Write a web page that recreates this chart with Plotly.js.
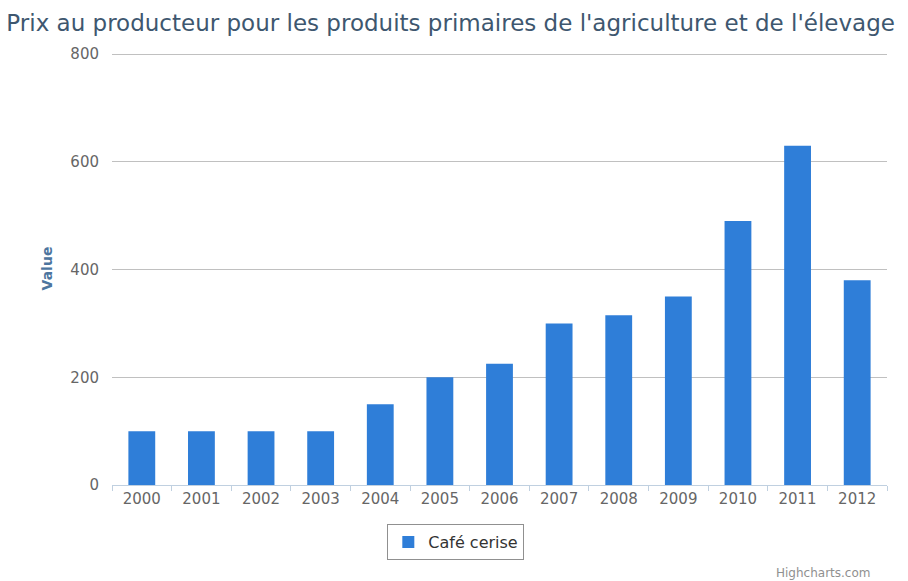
<!DOCTYPE html>
<html>
<head>
<meta charset="utf-8">
<script src="https://cdn.plot.ly/plotly-3.0.1.min.js"></script>
<style>
  html, body { margin: 0; padding: 0; background: #fff; }
  #chart { width: 908px; height: 581px; }
</style>
</head>
<body>
<div id="chart"></div>
<script>
const years = ["2000","2001","2002","2003","2004","2005","2006","2007","2008","2009","2010","2011","2012"];
const cafeCerise = [100, 100, 100, 100, 150, 200, 225, 300, 315, 350, 490, 630, 380];
const seriesName = "Café cerise";
const chartTitle = "Prix au producteur pour les produits primaires de l'agriculture et de l'élevage";
const yTitle = "Value";
const yTicks = [0, 200, 400, 600, 800];

const FONT = "DejaVu Sans, Verdana, sans-serif";

const trace = {
  type: "bar",
  x: years,
  y: cafeCerise,
  name: seriesName,
  marker: { color: "#2f7ed8" },
  showlegend: true,
  hoverinfo: "x+y"
};

const layout = {
  width: 908,
  height: 581,
  paper_bgcolor: "#ffffff",
  plot_bgcolor: "#ffffff",
  margin: { l: 112, r: 21, t: 52, b: 96 },
  bargap: 0.55,
  font: { family: FONT, color: "#666666" },
  title: {
    text: chartTitle,
    font: { family: FONT, size: 23, color: "#3e576f" },
    x: 0.007, xanchor: "left", xref: "container",
    y: 0.961, yanchor: "middle", yref: "container"
  },
  xaxis: {
    type: "category",
    showgrid: false,
    showline: true,
    linecolor: "#c0d0e0",
    linewidth: 1,
    ticks: "outside",
    tickson: "boundaries",
    ticklen: 5,
    tickcolor: "#c0d0e0",
    tickfont: { family: FONT, size: 15, color: "#666666" },
    zeroline: false,
    fixedrange: true
  },
  yaxis: {
    range: [0, 804],
    tickvals: yTicks,
    ticktext: yTicks.map(String),
    showgrid: true,
    gridcolor: "#c0c0c0",
    gridwidth: 1,
    zeroline: false,
    showline: false,
    ticks: "",
    ticklabelstandoff: 12,
    tickfont: { family: FONT, size: 15, color: "#666666" },
    title: {
      text: yTitle,
      font: { family: FONT, size: 14, color: "#4d759e", weight: "bold" },
      standoff: 14
    },
    fixedrange: true
  },
  legend: {
    orientation: "h",
    xref: "container", yref: "container",
    x: 0.502, xanchor: "center",
    y: 0.067, yanchor: "middle",
    bordercolor: "#909090",
    borderwidth: 1,
    bgcolor: "#ffffff",
    font: { family: FONT, size: 16, color: "#333333" }
  },
  annotations: [{
    text: "Highcharts.com",
    xref: "paper", yref: "paper",
    x: 0.981, xanchor: "right",
    y: -0.224, yanchor: "bottom",
    showarrow: false,
    font: { family: FONT, size: 12, color: "#909090" }
  }],
  hovermode: "closest"
};

Plotly.newPlot("chart", [trace], layout, { displayModeBar: false, staticPlot: false });
</script>
</body>
</html>
